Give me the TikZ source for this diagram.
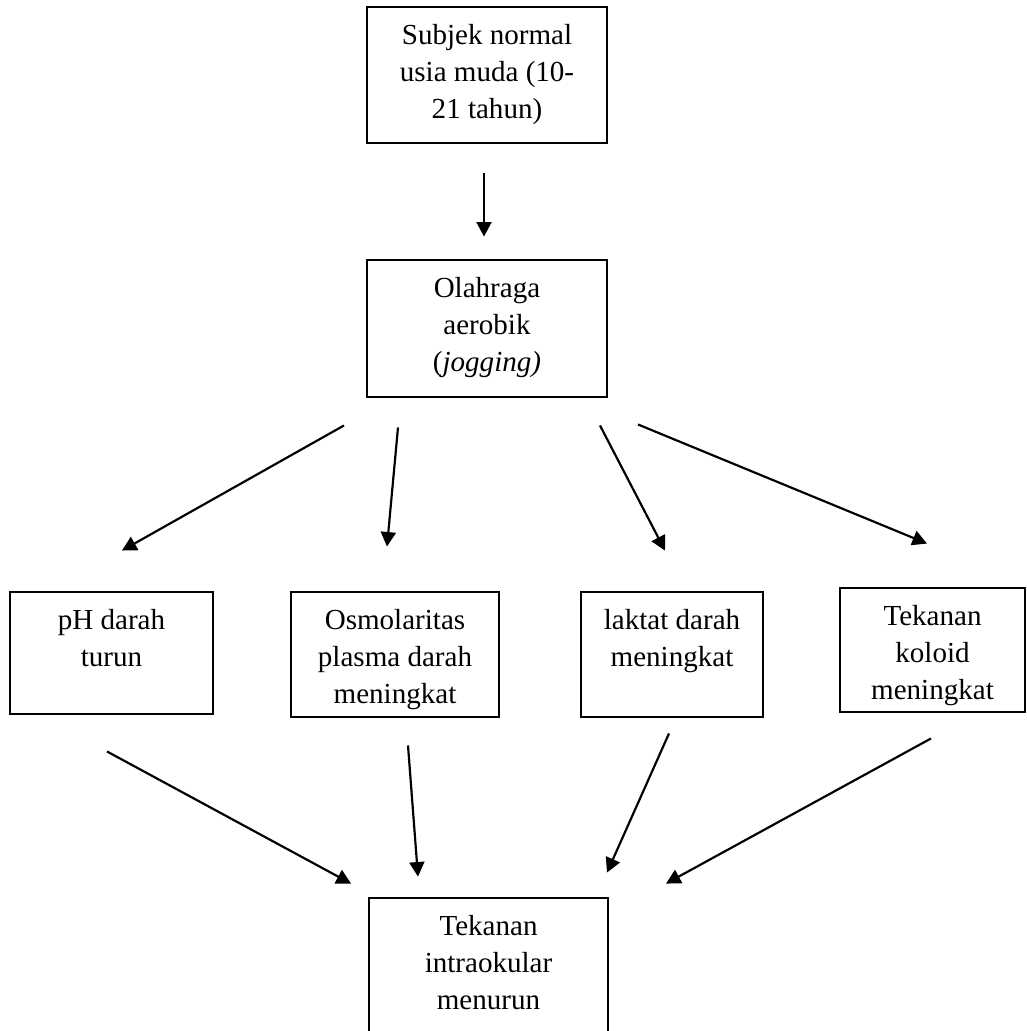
\documentclass[tikz,border=0pt]{standalone}
\usepackage{fontspec}
\setmainfont{Liberation Serif}
\usepackage{tikz}
\usetikzlibrary{arrows.meta}
\usetikzlibrary{calc}

\newcommand{\pxu}{0.413pt}

\begin{document}
\begin{tikzpicture}[x=0.413pt,y=-0.413pt,
	kotak/.style={draw,line width=1.2pt,inner sep=0pt},
	isi/.style={anchor=north,align=center,inner sep=0pt,yshift=-7.5pt,font=\fontsize{12pt}{15.3pt}\selectfont},
	panah/.style={->,line width=0.9pt},
	>={Triangle[length=6pt,width=6.2pt]}]

	\useasboundingbox (0,0) rectangle (1027,1031);

	\node[kotak,minimum width=240*\pxu,minimum height=136*\pxu,label={[isi]north:{Subjek normal\\usia muda (10-\\21 tahun)}}] (subjek) at (487,75) {};
	\node[kotak,minimum width=240*\pxu,minimum height=137*\pxu,label={[isi]north:{Olahraga\\aerobik\\(\textit{jogging)}}}] (olah) at (487,328.5) {};

	\node[kotak,minimum width=203*\pxu,minimum height=122*\pxu,label={[isi]north:{pH darah\\turun}}] (ph) at (111.5,653) {};
	\node[kotak,minimum width=208*\pxu,minimum height=125*\pxu,label={[isi]north:{Osmolaritas\\plasma darah\\meningkat}}] (osmo) at (395,654.5) {};
	\node[kotak,minimum width=182*\pxu,minimum height=125*\pxu,label={[isi]north:{laktat darah\\meningkat}}] (laktat) at (672,654.5) {};
	\node[kotak,minimum width=185*\pxu,minimum height=124*\pxu,label={[isi]north:{Tekanan\\koloid\\meningkat}}] (koloid) at (932.5,650) {};

	\node[kotak,minimum width=239*\pxu,minimum height=137*\pxu,label={[isi]north:{Tekanan\\intraokular\\menurun}}] (tio) at (488.5,966.5) {};

	\draw[panah] ($(subjek.south)+(-3,29)$) -- ($(olah.north)+(-3,-22)$);

	\draw[panah] ($(olah.south)+(-143,27)$) -- ($(ph.north)+(10.5,-40)$);
	\draw[panah] ($(olah.south)+(-89,29)$) -- ($(osmo.north)+(-8,-44)$);
	\draw[panah] ($(olah.south)+(113,27)$) -- ($(laktat.north)+(-7,-40)$);
	\draw[panah] ($(olah.south)+(151,26)$) -- ($(koloid.north)+(-5.5,-43)$);

	\draw[panah] ($(ph.south)+(-4.5,36)$) -- ($(tio.north)+(-137.5,-13)$);
	\draw[panah] ($(osmo.south)+(13,27)$) -- ($(tio.north)+(-70.5,-20)$);
	\draw[panah] ($(laktat.south)+(-3,15)$) -- ($(tio.north)+(118.5,-24)$);
	\draw[panah] ($(koloid.south)+(-1.5,25)$) -- ($(tio.north)+(177.5,-13)$);

\end{tikzpicture}
\end{document}
